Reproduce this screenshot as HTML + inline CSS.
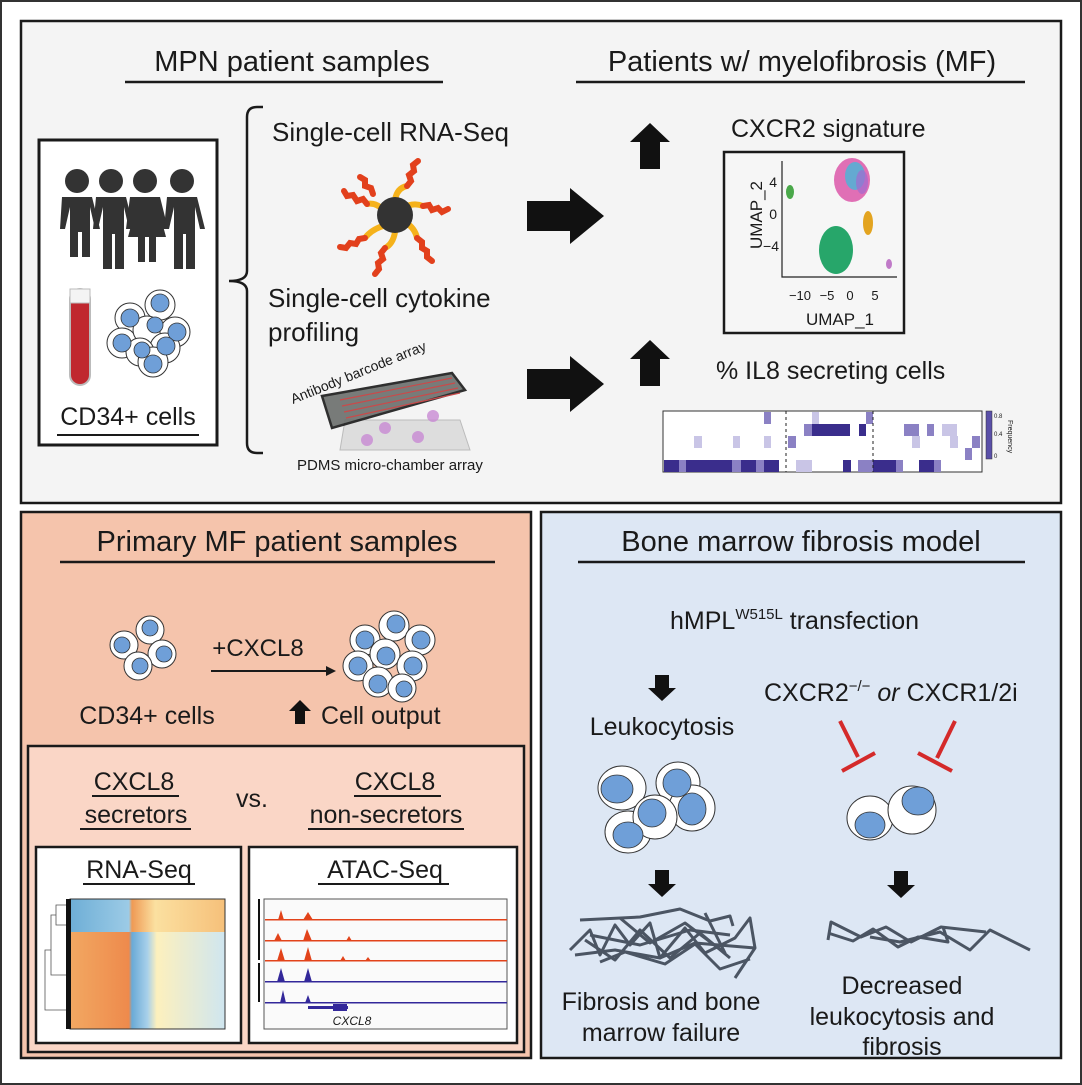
<!DOCTYPE html>
<html><head><meta charset="utf-8">
<style>
html,body{margin:0;padding:0;background:#fff;}
svg{display:block;}
text{font-family:"Liberation Sans",sans-serif;fill:#1a1a1a;}
</style></head><body>
<svg width="1082" height="1085" viewBox="0 0 1082 1085" xmlns="http://www.w3.org/2000/svg">
<rect x="1" y="1" width="1080" height="1083" fill="#fff" stroke="#333" stroke-width="2"/>
<!-- TOP PANEL -->
<rect x="21" y="21" width="1040" height="482" fill="#f4f4f4" stroke="#1a1a1a" stroke-width="2.5"/>
<text x="292" y="71" font-size="29" text-anchor="middle">MPN patient samples</text>
<line x1="125" y1="82" x2="443" y2="82" stroke="#1a1a1a" stroke-width="2.5"/>
<text x="802" y="71" font-size="29" text-anchor="middle">Patients w/ myelofibrosis (MF)</text>
<line x1="576" y1="82" x2="1025" y2="82" stroke="#1a1a1a" stroke-width="2.5"/>
<!-- left box -->
<rect x="39" y="140" width="178" height="305" fill="#fff" stroke="#1a1a1a" stroke-width="3"/>
<g fill="#333">
 <g><circle cx="77" cy="181" r="12"/><path d="M62 197 h30 l8 32 h-5 l-5 -22 v50 h-8 v-25 h-4 v25 h-8 v-50 l-5 22 h-5z"/></g>
 <g><circle cx="111" cy="181" r="12"/><path d="M96 197 h30 l8 32 h-5 l-5 -22 v62 h-9 v-35 h-3 v35 h-9 v-62 l-5 22 h-5z"/></g>
 <g><circle cx="145" cy="181" r="12"/><path d="M130 197 h30 l8 32 h-5 l-5 -22 l8 30 h-10 v25 h-7 v-25 h-4 v25 h-7 v-25 h-10 l8 -30 l-5 22 h-5z"/></g>
 <g><circle cx="182" cy="181" r="12"/><path d="M167 197 h30 l8 32 h-5 l-5 -22 v62 h-9 v-35 h-3 v35 h-9 v-62 l-5 22 h-5z"/></g>
</g>
<rect x="70" y="289" width="20" height="96" rx="10" fill="#c0282f" stroke="#bbb" stroke-width="2"/>
<rect x="70" y="289" width="20" height="14" fill="#f4f4f4" stroke="#bbb"/>
<g stroke="#333" stroke-width="1" fill="#fff">
 <circle cx="160" cy="305" r="15"/><circle cx="130" cy="318" r="15"/><circle cx="122" cy="343" r="15"/><circle cx="147" cy="330" r="14"/><circle cx="175" cy="332" r="15"/><circle cx="165" cy="348" r="15"/><circle cx="140" cy="352" r="14"/><circle cx="153" cy="362" r="15"/>
</g>
<g fill="#6f9fd8" stroke="#333" stroke-width="0.8">
 <circle cx="160" cy="303" r="9"/><circle cx="130" cy="318" r="9"/><circle cx="122" cy="343" r="9"/><circle cx="155" cy="325" r="8"/><circle cx="177" cy="332" r="9"/><circle cx="166" cy="346" r="9"/><circle cx="142" cy="350" r="8"/><circle cx="153" cy="364" r="9"/>
</g>
<text x="128" y="425" font-size="25" text-anchor="middle">CD34+ cells</text>
<line x1="57" y1="435" x2="199" y2="435" stroke="#1a1a1a" stroke-width="2"/>
<!-- brace -->
<path d="M263 107 h-6 q-10 0 -10 10 v154 q0 10 -18 10 q18 0 18 10 v152 q0 10 10 10 h6" fill="none" stroke="#1a1a1a" stroke-width="2.5"/>
<text x="272" y="141" font-size="26">Single-cell RNA-Seq</text>
<!-- bead -->
<g stroke-linecap="round" fill="none">
 <g stroke="#f5b21b" stroke-width="6">
  <path d="M385 212 q-8 -10 -18 -8"/><path d="M395 200 q2 -12 12 -14"/><path d="M403 208 q10 -6 20 -2"/><path d="M405 222 q10 6 12 16"/><path d="M395 232 q-2 12 -10 16"/><path d="M383 226 q-12 4 -18 12"/>
 </g>
 <g stroke="#e2401c" stroke-width="6">
  <path d="M367 204 l-4 -5 l-6 2 l-4 -6 l-6 1 l-3 -5"/>
  <path d="M407 186 l4 -5 l-2 -6 l5 -4 l-1 -6 l5 -4"/>
  <path d="M423 206 l6 -1 l3 5 l6 -2 l4 4 l6 -3"/>
  <path d="M417 238 l5 4 l0 6 l5 3 l0 6 l5 4"/>
  <path d="M385 248 l-4 5 l2 6 l-5 4 l1 6 l-4 5"/>
  <path d="M365 238 l-6 1 l-3 5 l-6 -1 l-4 5 l-6 -1"/>
  <path d="M373 194 l-2 -6 l-6 -2 l0 -6 l-5 -3"/>
 </g>
</g>
<circle cx="395" cy="215" r="18" fill="#333"/>
<text x="268" y="307" font-size="26">Single-cell cytokine</text>
<text x="268" y="341" font-size="26">profiling</text>
<!-- chip -->
<polygon points="345,420 460,420 470,450 340,450" fill="#ddd" stroke="#bbb"/>
<g fill="#c98ad4" opacity="0.8"><circle cx="367" cy="440" r="6"/><circle cx="385" cy="428" r="6"/><circle cx="418" cy="437" r="6"/><circle cx="433" cy="416" r="6"/></g>
<polygon points="322,396 452,373 465,390 332,428" fill="#6b6f6c" stroke="#1a1a1a" stroke-width="2.5" opacity="0.9"/>
<g stroke="#c94a4a" stroke-width="1.2"><line x1="340" y1="400" x2="452" y2="378"/><line x1="342" y1="406" x2="455" y2="383"/><line x1="344" y1="412" x2="458" y2="388"/><line x1="346" y1="418" x2="460" y2="393"/></g>
<text x="0" y="0" font-size="14" transform="translate(293,404) rotate(-22)">Antibody barcode array</text>
<text x="297" y="470" font-size="15">PDMS micro-chamber array</text>
<!-- right arrows -->
<polygon points="527,201 570,201 570,188 604,216 570,244 570,231 527,231" fill="#111"/>
<polygon points="527,369 570,369 570,356 604,384 570,412 570,399 527,399" fill="#111"/>
<polygon points="650,123 670,142 660,142 660,169 640,169 640,142 630,142" fill="#111"/>
<polygon points="650,340 670,359 660,359 660,386 640,386 640,359 630,359" fill="#111"/>
<text x="731" y="137" font-size="25">CXCR2 signature</text>
<rect x="724" y="152" width="180" height="181" fill="#f6f6f6" stroke="#1a1a1a" stroke-width="2.5"/>
<polyline points="782,161 782,277 897,277" fill="none" stroke="#222" stroke-width="1.2"/>
<g font-size="14" text-anchor="end"><text x="777" y="187">4</text><text x="777" y="219">0</text><text x="779" y="251">−4</text></g>
<g font-size="13" text-anchor="middle"><text x="800" y="300">−10</text><text x="827" y="300">−5</text><text x="850" y="300">0</text><text x="875" y="300">5</text></g>
<text x="840" y="325" font-size="17" text-anchor="middle">UMAP_1</text>
<text x="0" y="0" font-size="17" text-anchor="middle" transform="translate(762,215) rotate(-90)">UMAP_2</text>
<ellipse cx="790" cy="192" rx="4" ry="7" fill="#4aa84a"/>
<ellipse cx="852" cy="180" rx="18" ry="22" fill="#e06fb5"/>
<ellipse cx="855" cy="176" rx="10" ry="14" fill="#45b8d8" opacity="0.8"/>
<ellipse cx="862" cy="182" rx="6" ry="12" fill="#a16bd0" opacity="0.7"/>
<ellipse cx="868" cy="223" rx="5" ry="12" fill="#e3a420"/>
<ellipse cx="836" cy="250" rx="17" ry="24" fill="#27a66a"/>
<ellipse cx="889" cy="264" rx="3" ry="5" fill="#c07ac8"/>
<text x="716" y="379" font-size="25">% IL8 secreting cells</text>
<!-- heatmap -->
<rect x="663" y="411" width="319" height="61" fill="#fff" stroke="#333" stroke-width="1"/>
<g fill="#3a2d8c">
 <rect x="664" y="460" width="15" height="12"/><rect x="686" y="460" width="46" height="12"/><rect x="741" y="460" width="15" height="12"/><rect x="764" y="460" width="15" height="12"/><rect x="843" y="460" width="8" height="12"/><rect x="873" y="460" width="23" height="12"/><rect x="919" y="460" width="15" height="12"/>
 <rect x="812" y="424" width="38" height="12"/><rect x="859" y="424" width="7" height="12"/>
</g>
<g fill="#8b81c4">
 <rect x="679" y="460" width="7" height="12"/><rect x="732" y="460" width="9" height="12"/><rect x="756" y="460" width="8" height="12"/><rect x="858" y="460" width="15" height="12"/><rect x="896" y="460" width="7" height="12"/><rect x="934" y="460" width="7" height="12"/>
 <rect x="764" y="412" width="7" height="12"/><rect x="804" y="424" width="8" height="12"/><rect x="866" y="412" width="7" height="12"/><rect x="904" y="424" width="15" height="12"/><rect x="927" y="424" width="7" height="12"/><rect x="788" y="436" width="8" height="12"/><rect x="972" y="436" width="8" height="12"/><rect x="965" y="448" width="7" height="12"/>
</g>
<g fill="#c9c5e6">
 <rect x="694" y="436" width="8" height="12"/><rect x="733" y="436" width="7" height="12"/><rect x="764" y="436" width="7" height="12"/><rect x="796" y="460" width="16" height="12"/><rect x="942" y="424" width="15" height="12"/><rect x="912" y="436" width="8" height="12"/><rect x="950" y="436" width="8" height="12"/><rect x="812" y="412" width="7" height="12"/>
</g>
<line x1="786" y1="411" x2="786" y2="472" stroke="#222" stroke-dasharray="3,3"/>
<line x1="873" y1="411" x2="873" y2="472" stroke="#222" stroke-dasharray="3,3"/>
<rect x="986" y="411" width="6" height="48" fill="#5a50a8" stroke="#333" stroke-width="0.5"/>
<g font-size="6" fill="#666"><text x="994" y="418">0.8</text><text x="994" y="436">0.4</text><text x="994" y="458">0</text></g>
<text x="0" y="0" font-size="7" transform="translate(1008,420) rotate(90)">Frequency</text>

<!-- BOTTOM LEFT -->
<rect x="21" y="512" width="510" height="546" fill="#f5c4ac" stroke="#1a1a1a" stroke-width="2.5"/>
<text x="277" y="551" font-size="29" text-anchor="middle">Primary MF patient samples</text>
<line x1="60" y1="562" x2="495" y2="562" stroke="#1a1a1a" stroke-width="2.5"/>
<g stroke="#333" stroke-width="1" fill="#fff">
 <circle cx="124" cy="645" r="14"/><circle cx="150" cy="630" r="14"/><circle cx="162" cy="654" r="14"/><circle cx="138" cy="666" r="14"/>
</g>
<g fill="#6f9fd8" stroke="#333" stroke-width="0.8"><circle cx="122" cy="645" r="8"/><circle cx="150" cy="628" r="8"/><circle cx="164" cy="654" r="8"/><circle cx="140" cy="666" r="8"/></g>
<text x="258" y="656" font-size="24" text-anchor="middle">+CXCL8</text>
<line x1="211" y1="671" x2="330" y2="671" stroke="#1a1a1a" stroke-width="2"/>
<polygon points="336,671 326,666 326,676" fill="#1a1a1a"/>
<g stroke="#333" stroke-width="1" fill="#fff">
 <circle cx="365" cy="640" r="15"/><circle cx="394" cy="626" r="15"/><circle cx="420" cy="640" r="15"/><circle cx="358" cy="666" r="15"/><circle cx="385" cy="654" r="15"/><circle cx="412" cy="666" r="15"/><circle cx="378" cy="682" r="15"/><circle cx="402" cy="688" r="14"/>
</g>
<g fill="#6f9fd8" stroke="#333" stroke-width="0.8"><circle cx="365" cy="640" r="9"/><circle cx="396" cy="624" r="9"/><circle cx="421" cy="640" r="9"/><circle cx="358" cy="666" r="9"/><circle cx="386" cy="656" r="9"/><circle cx="413" cy="666" r="9"/><circle cx="378" cy="684" r="9"/><circle cx="404" cy="689" r="8"/></g>
<text x="147" y="724" font-size="25" text-anchor="middle">CD34+ cells</text>
<polygon points="300,700 311,711 305,711 305,724 295,724 295,711 289,711" fill="#111"/>
<text x="321" y="724" font-size="25">Cell output</text>
<rect x="28" y="746" width="496" height="306" fill="#fad6c6" stroke="#1a1a1a" stroke-width="2.5"/>
<text x="134" y="790" font-size="25" text-anchor="middle">CXCL8</text>
<line x1="92" y1="796" x2="179" y2="796" stroke="#1a1a1a" stroke-width="2"/>
<text x="136" y="823" font-size="25" text-anchor="middle">secretors</text>
<line x1="80" y1="829" x2="191" y2="829" stroke="#1a1a1a" stroke-width="2"/>
<text x="252" y="807" font-size="25" text-anchor="middle">vs.</text>
<text x="395" y="790" font-size="25" text-anchor="middle">CXCL8</text>
<line x1="354" y1="796" x2="441" y2="796" stroke="#1a1a1a" stroke-width="2"/>
<text x="386" y="823" font-size="25" text-anchor="middle">non-secretors</text>
<line x1="308" y1="829" x2="464" y2="829" stroke="#1a1a1a" stroke-width="2"/>
<rect x="36" y="847" width="205" height="196" fill="#fff" stroke="#1a1a1a" stroke-width="2.5"/>
<text x="139" y="878" font-size="25" text-anchor="middle">RNA-Seq</text>
<line x1="83" y1="884" x2="195" y2="884" stroke="#1a1a1a" stroke-width="2"/>
<defs>
<linearGradient id="hm1" x1="0" x2="1"><stop offset="0" stop-color="#6eaed6"/><stop offset="0.38" stop-color="#9ccbe6"/><stop offset="0.4" stop-color="#ef9a55"/><stop offset="0.55" stop-color="#fbe0a0"/><stop offset="1" stop-color="#f6c07a"/></linearGradient>
<linearGradient id="hm2" x1="0" x2="1"><stop offset="0" stop-color="#f2a862"/><stop offset="0.38" stop-color="#ee8a4c"/><stop offset="0.4" stop-color="#6aaad6"/><stop offset="0.5" stop-color="#a8d0ea"/><stop offset="0.56" stop-color="#fdf0bd"/><stop offset="1" stop-color="#cfe6f0"/></linearGradient>
</defs>
<rect x="70" y="899" width="155" height="33" fill="url(#hm1)"/>
<rect x="70" y="932" width="155" height="97" fill="url(#hm2)"/>
<rect x="70" y="899" width="155" height="130" fill="none" stroke="#333"/>
<rect x="66" y="899" width="5" height="130" fill="#111"/>
<path d="M66 905 h-10 v20 h10 M56 915 h-5 v60 h15 M51 950 h-6 v60 h21" fill="none" stroke="#555" stroke-width="0.8"/>
<rect x="249" y="847" width="268" height="196" fill="#fff" stroke="#1a1a1a" stroke-width="2.5"/>
<text x="385" y="878" font-size="25" text-anchor="middle">ATAC-Seq</text>
<line x1="318" y1="884" x2="449" y2="884" stroke="#1a1a1a" stroke-width="2"/>
<rect x="264" y="899" width="243" height="130" fill="#fafafa" stroke="#555"/>
<line x1="259" y1="899" x2="259" y2="960" stroke="#111" stroke-width="2"/>
<line x1="259" y1="963" x2="259" y2="1002" stroke="#111" stroke-width="2"/>
<g fill="#e2431a">
 <rect x="265" y="919" width="242" height="1.5"/><path d="M278 920 l3 -10 l3 10z M303 920 l5 -8 l5 8z"/>
 <rect x="265" y="940" width="242" height="1.5"/><path d="M274 941 l4 -8 l4 8z M303 941 l4 -12 l5 12z M346 941 l3 -5 l3 5z"/>
 <rect x="265" y="960" width="242" height="1.5"/><path d="M277 961 l4 -13 l4 13z M304 961 l4 -14 l4 14z M340 961 l3 -5 l3 5z M365 961 l3 -4 l3 4z"/>
</g>
<g fill="#33289a">
 <rect x="265" y="981" width="242" height="1.5"/><path d="M277 982 l4 -14 l4 14z M304 982 l4 -14 l4 14z"/>
 <rect x="265" y="1002" width="242" height="1.5"/><path d="M280 1003 l3 -13 l3 13z M305 1003 l3 -8 l3 8z"/>
 <rect x="308" y="1006" width="40" height="3"/><rect x="333" y="1004" width="14" height="7"/>
</g>
<text x="352" y="1025" font-size="12" font-style="italic" text-anchor="middle">CXCL8</text>

<!-- BOTTOM RIGHT -->
<rect x="541" y="512" width="520" height="546" fill="#dde7f4" stroke="#1a1a1a" stroke-width="2.5"/>
<text x="801" y="551" font-size="29" text-anchor="middle">Bone marrow fibrosis model</text>
<line x1="578" y1="562" x2="1025" y2="562" stroke="#1a1a1a" stroke-width="2.5"/>
<text x="670" y="629" font-size="25">hMPL<tspan font-size="15" dy="-10">W515L</tspan><tspan dy="10"> transfection</tspan></text>
<polygon points="655,675 669,675 669,688 676,688 662,701 648,688 655,688" fill="#111"/>
<text x="662" y="735" font-size="25" text-anchor="middle">Leukocytosis</text>
<text x="764" y="701" font-size="25">CXCR2<tspan font-size="15" dy="-10">−/−</tspan><tspan dy="10" font-style="italic"> or </tspan>CXCR1/2i</text>
<g stroke="#d42a2a" stroke-width="4" fill="none"><line x1="840" y1="721" x2="858" y2="757"/><line x1="842" y1="771" x2="875" y2="753"/><line x1="955" y1="721" x2="937" y2="758"/><line x1="918" y1="753" x2="952" y2="771"/></g>
<g stroke="#333" stroke-width="1" fill="#fff">
 <ellipse cx="622" cy="788" rx="24" ry="22"/><ellipse cx="678" cy="783" rx="22" ry="21"/><ellipse cx="628" cy="832" rx="23" ry="21"/><ellipse cx="692" cy="808" rx="23" ry="23"/><ellipse cx="655" cy="817" rx="22" ry="22"/>
 <ellipse cx="870" cy="818" rx="23" ry="22"/><ellipse cx="912" cy="810" rx="24" ry="24"/>
</g>
<g fill="#6f9fd8" stroke="#333" stroke-width="0.8">
 <ellipse cx="617" cy="789" rx="16" ry="14"/><ellipse cx="677" cy="783" rx="14" ry="14"/><ellipse cx="628" cy="835" rx="15" ry="13"/><ellipse cx="692" cy="809" rx="14" ry="16"/><ellipse cx="652" cy="813" rx="14" ry="14"/>
 <ellipse cx="870" cy="825" rx="15" ry="13"/><ellipse cx="918" cy="801" rx="16" ry="14"/>
</g>
<polygon points="655,870 669,870 669,884 676,884 662,897 648,884 655,884" fill="#111"/>
<polygon points="894,871 908,871 908,885 915,885 901,898 887,885 894,885" fill="#111"/>
<g fill="none" stroke="#4b5563" stroke-width="3" stroke-linejoin="round">
 <path d="M580 920 l60 -3 l40 -8 l30 12 l20 -5 l3 10"/>
 <path d="M570 950 l20 -20 l10 25 l15 -30 l15 20 l20 -22 l10 35 l25 -30 l20 25 l30 -15 l15 -20 l5 30 l-20 30"/>
 <path d="M575 955 l40 -5 l45 8 l35 -15 l60 5"/>
 <path d="M585 940 l30 20 l25 -30 l30 28 l30 -25 l30 25"/>
 <path d="M600 962 l25 -10 l40 12 l30 -20 l25 25 l30 -10"/>
 <path d="M620 918 l30 25 l35 -20 l40 30 l-20 -40"/>
 <path d="M590 935 l50 10 l50 -15 l40 5"/>
 <path d="M828 940 l3 -18 l30 15 l25 -10 l25 15 l30 -15 l45 5"/>
 <path d="M828 933 l25 8 l20 -12 l25 18 l20 -10 l30 5 l-5 -15"/>
 <path d="M870 937 l30 5 l40 -10 l30 18 l20 -20 l40 20"/>
</g>
<text x="661" y="1010" font-size="25" text-anchor="middle">Fibrosis and bone</text>
<text x="661" y="1041" font-size="25" text-anchor="middle">marrow failure</text>
<text x="902" y="994" font-size="25" text-anchor="middle">Decreased</text>
<text x="902" y="1025" font-size="25" text-anchor="middle">leukocytosis and</text>
<text x="902" y="1055" font-size="25" text-anchor="middle">fibrosis</text>
</svg>
</body></html>
